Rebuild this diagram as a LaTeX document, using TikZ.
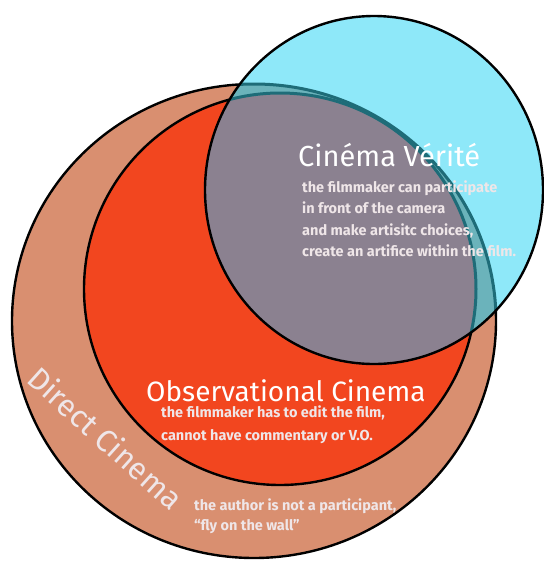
\documentclass[tikz,border=0pt]{standalone}
\usepackage{fontspec}
\setmainfont{Fira Sans}
\usepackage{tikz}

\definecolor{directtan}{HTML}{D98F70}
\definecolor{obsred}{HTML}{F2461F}
\definecolor{veritecyan}{HTML}{8EE8F9}
\definecolor{overlapgray}{HTML}{8B8190}
\definecolor{ringlight}{HTML}{6BB3BB}
\definecolor{ringteal}{HTML}{1E6C78}
\definecolor{palewhite}{HTML}{EFE6E8}

\begin{document}
\begin{tikzpicture}[x=1pt,y=-1pt,line width=2.4pt,
    title/.style={inner sep=0pt,anchor=base west,text=white,font=\fontsize{29}{30}\selectfont},
    body/.style={inner sep=0pt,anchor=base west,text=palewhite,font=\fontsize{14.5}{18}\selectfont\bfseries}]
        \useasboundingbox (0,0) rectangle (544,563);
        % the three circles
        \draw[fill=directtan] (254,321) ellipse [x radius=242, y radius=237];
        \draw[fill=obsred] (280,289) circle [radius=196];
        \fill[veritecyan] (374,190) ellipse [x radius=169, y radius=174];
        \begin{scope}
            \clip (374,190) ellipse [x radius=169, y radius=174];
            \draw[ringteal,fill=ringlight,line width=3pt] (254,321) ellipse [x radius=242, y radius=237];
            \draw[ringteal,fill=overlapgray,line width=3pt] (280,289) circle [radius=196];
        \end{scope}
        \draw (374,190) ellipse [x radius=169, y radius=174];
        % cinema verite
        \node[title] (verite) at (297,166) {Cinéma Vérité};
        \foreach \txt [count=\i] in {the filmmaker can participate, in front of the camera,
            {and make artisitc choices,}, create an artifice within the film.}
            \node[body] (verite\i) at (301,170.5+21.5*\i) {\txt};
        % observational cinema
        \node[title,font=\fontsize{28}{30}\selectfont] (obs) at (145,401) {Observational Cinema};
        \node[body] (obs1) at (160,417) {the filmmaker has to edit the film,};
        \node[body] (obs2) at (160,440) {cannot have commentary or V.O.};
        % direct cinema
        \node[text=palewhite,font=\fontsize{31}{32}\selectfont,rotate=-42] (direct) at (106,438) {Direct Cinema};
        \node[body] (direct1) at (193,510) {the author is not a participant,};
        \node[body] (direct2) at (193,530) {“fly on the wall”};
    \end{tikzpicture}
\end{document}
